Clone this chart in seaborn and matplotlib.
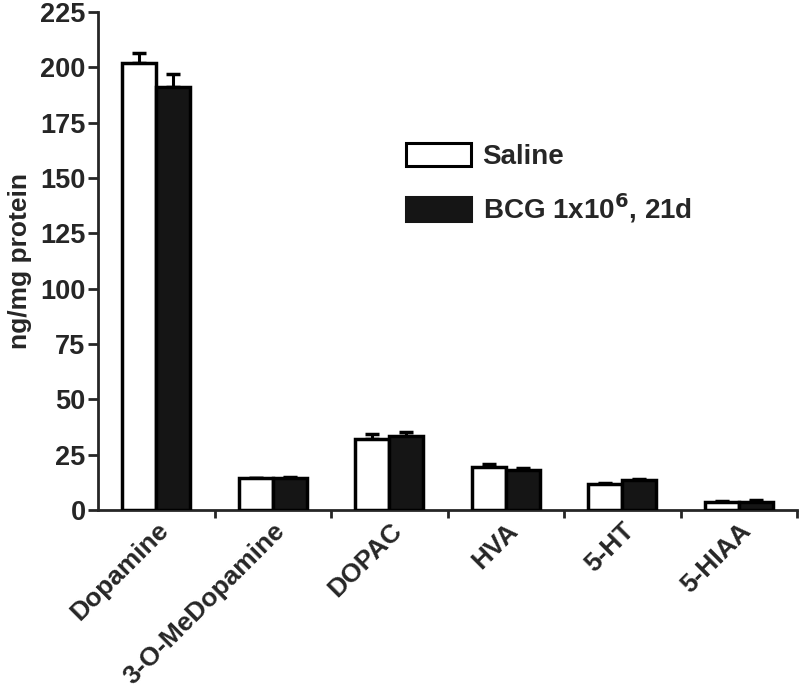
import matplotlib
matplotlib.use("Agg")
import matplotlib.pyplot as plt
import seaborn as sns
import pandas as pd
import numpy as np
from matplotlib.patches import Patch

categories = ["Dopamine", "3-O-MeDopamine", "DOPAC", "HVA", "5-HT", "5-HIAA"]
groups = ["Saline", "BCG 1x10$^{6}$, 21d"]
saline = [202, 14.3, 32.0, 19.6, 11.9, 3.6]
saline_err = [4.5, 0.3, 2.2, 1.1, 0.3, 0.3]
bcg = [191, 14.5, 33.5, 18.2, 13.7, 3.6]
bcg_err = [6.0, 0.3, 1.6, 0.9, 0.3, 0.9]
y_ticks = [0, 25, 50, 75, 100, 125, 150, 175, 200, 225]

df = pd.DataFrame({
    "cat": categories * 2,
    "group": [groups[0]] * len(categories) + [groups[1]] * len(categories),
    "value": saline + bcg,
})

sns.set_style("ticks")
plt.rcParams['font.family'] = ['Liberation Sans', 'DejaVu Sans']
plt.rcParams['font.weight'] = 'bold'

fig = plt.figure(figsize=(8, 6.99), dpi=100)
ax = fig.add_axes([0.1225, 0.2704, 0.8738, 0.7126])

sns.barplot(data=df, x="cat", y="value", hue="group", order=categories,
            hue_order=groups, palette=["white", "#151515"], edgecolor="black",
            linewidth=2.5, width=0.58, errorbar=None, ax=ax, legend=False,
            zorder=3)

# error bars (upper only)
n = len(categories)
patches = ax.patches[:2 * n]
errs = saline_err + bcg_err
vals = saline + bcg
for p, v, e in zip(patches, vals, errs):
    xc = p.get_x() + p.get_width() / 2
    ax.errorbar([xc], [v], yerr=[[0], [e]], fmt="none", ecolor="black",
                elinewidth=2.2, capsize=5, capthick=2.5, zorder=2)

ax.set_ylim(0, 225)
ax.set_xlim(-0.5, n - 0.5)
ax.set_yticks(y_ticks)
ax.set_yticklabels([str(t) for t in y_ticks], fontsize=19.5, fontweight="bold")
ax.set_xticks(np.arange(n))
ax.set_xticklabels(categories, rotation=45, ha="right", rotation_mode="anchor",
                   fontsize=19, fontweight="bold")
ax.tick_params(axis="x", length=0, pad=6)
ax.set_xticks(np.arange(n) + 0.5, minor=True)
ax.tick_params(axis="x", which="minor", length=6, width=2, direction="out")
ax.tick_params(axis="y", length=7, width=2, pad=2)
ax.set_xlabel("")
ax.set_ylabel("ng/mg protein", fontsize=19, fontweight="bold", labelpad=6)
for s in ["top", "right"]:
    ax.spines[s].set_visible(False)
for s in ["left", "bottom"]:
    ax.spines[s].set_linewidth(2)

handles = [Patch(facecolor="white", edgecolor="black", linewidth=2.2),
           Patch(facecolor="#151515", edgecolor="#151515", linewidth=2.2)]
ax.legend(handles, groups, loc="upper left", bbox_to_anchor=(0.425, 0.76),
          frameon=False, prop={"size": 20, "weight": "bold"},
          handlelength=2.35, handleheight=0.95, handletextpad=0.4,
          labelspacing=0.75, borderaxespad=0)

fig.savefig("out.png", dpi=100)
